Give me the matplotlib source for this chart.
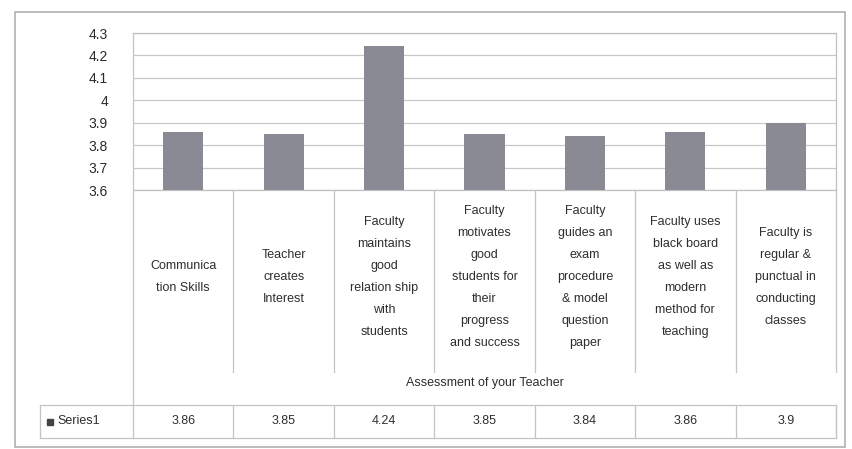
import matplotlib
matplotlib.use("Agg")
import matplotlib.pyplot as plt
import matplotlib.transforms as mtransforms
from matplotlib.lines import Line2D
from matplotlib.patches import Rectangle

plt.rcParams['font.family'] = ['Liberation Sans', 'DejaVu Sans']

# data
categories = ["Communica\ntion Skills",
              "Teacher\ncreates\nInterest",
              "Faculty\nmaintains\ngood\nrelation ship\nwith\nstudents",
              "Faculty\nmotivates\ngood\nstudents for\ntheir\nprogress\nand success",
              "Faculty\nguides an\nexam\nprocedure\n& model\nquestion\npaper",
              "Faculty uses\nblack board\nas well as\nmodern\nmethod for\nteaching",
              "Faculty is\nregular &\npunctual in\nconducting\nclasses"]
values = [3.86, 3.85, 4.24, 3.85, 3.84, 3.86, 3.9]
value_labels = ["3.86", "3.85", "4.24", "3.85", "3.84", "3.86", "3.9"]
yticks = [3.6, 3.7, 3.8, 3.9, 4.0, 4.1, 4.2, 4.3]
ytick_labels = ["3.6", "3.7", "3.8", "3.9", "4", "4.1", "4.2", "4.3"]
series_name = "Series1"
axis_title = "Assessment of your Teacher"

W, H = 853, 449
fig = plt.figure(figsize=(W / 100, H / 100), dpi=100)

def fx(px):
    return px / W

def fy(px):
    return 1 - px / H

left, right, top, bottom = 133, 836, 33, 190
ax = fig.add_axes([fx(left), fy(bottom), fx(right) - fx(left), fy(top) - fy(bottom)])

n = len(values)
xs = list(range(n))
ax.bar(xs, values, width=0.4, color="#898a94", zorder=3)
ax.set_xlim(-0.5, n - 0.5)
ax.set_ylim(3.6, 4.3)
ax.set_yticks(yticks)
ax.set_yticklabels(ytick_labels, fontsize=10, color="#2a2a2a")
ax.tick_params(axis='y', length=0, pad=18)
ax.set_xticks([])
ax.grid(axis='y', color="#c8c8c8", linewidth=0.9, zorder=0)
for s in ax.spines.values():
    s.set_color("#c0c0c0")
    s.set_linewidth(0.9)
ax.spines['left'].set_visible(False)

trans = mtransforms.blended_transform_factory(ax.transData, fig.transFigure)
lc = "#c4c4c4"
tc = "#2e2e2e"

# category separators and labels
for i in range(n + 1):
    xb = i - 0.5
    if i == 0:
        fig.add_artist(Line2D([xb, xb], [fy(top), fy(438)], transform=trans, color=lc, lw=0.9))
    else:
        fig.add_artist(Line2D([xb, xb], [fy(bottom), fy(372)], transform=trans, color=lc, lw=0.9))
        fig.add_artist(Line2D([xb, xb], [fy(405), fy(438)], transform=trans, color=lc, lw=0.9))

for i, lab in enumerate(categories):
    fig.text(xs[i], fy(277), lab, transform=trans, ha='center', va='center',
             fontsize=9, color=tc, linespacing=2.1)

fig.text(fx((left + right) / 2), fy(383), axis_title, ha='center', va='center',
         fontsize=9, color=tc)

# data table row
for yy in (405, 438):
    fig.add_artist(Line2D([fx(40), fx(right)], [fy(yy), fy(yy)], transform=fig.transFigure, color=lc, lw=0.9))
for xx in (40, right):
    fig.add_artist(Line2D([fx(xx), fx(xx)], [fy(405), fy(438)], transform=fig.transFigure, color=lc, lw=0.9))
fig.add_artist(Rectangle((fx(47), fy(425)), fx(6), 6 / H, transform=fig.transFigure, color="#444444"))
fig.text(fx(57), fy(421), series_name, ha='left', va='center', fontsize=9, color=tc)
for i, v in enumerate(value_labels):
    fig.text(xs[i], fy(421), v, transform=trans, ha='center', va='center',
             fontsize=9, color=tc)

# outer border
fig.add_artist(Rectangle((fx(15), fy(447)), fx(845) - fx(15), (447 - 12) / H,
                         transform=fig.transFigure, fill=False, edgecolor="#b0b0b0", lw=1.2))

fig.savefig("out.png", dpi=100)
